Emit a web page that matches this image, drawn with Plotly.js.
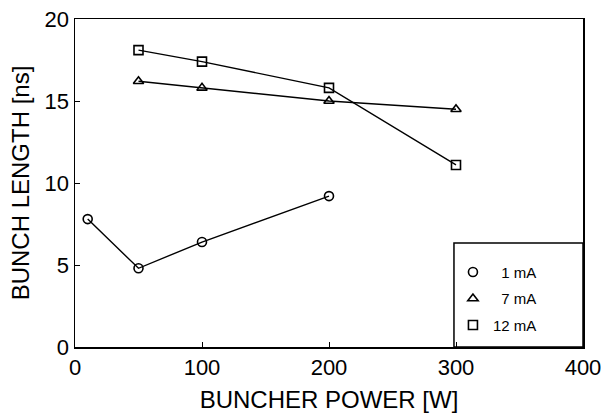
<!DOCTYPE html>
<html>
<head>
<meta charset="utf-8">
<script src="https://cdn.plot.ly/plotly-3.0.1.min.js"></script>
<style>
html,body{margin:0;padding:0;background:#fff;}
#chart{width:602px;height:417px;}
</style>
</head>
<body>
<div id="chart"></div>
<script>
// Data
var power1mA = [10, 50, 100, 200];
var length1mA = [7.8, 4.8, 6.4, 9.2];
var power7mA = [50, 100, 200, 300];
var length7mA = [16.2, 15.8, 15.0, 14.5];
var power12mA = [50, 100, 200, 300];
var length12mA = [18.1, 17.4, 15.8, 11.1];
var seriesNames = ["\u20071 mA", "\u20077 mA", "12 mA"];
var xTicks = [0, 100, 200, 300, 400];
var yTicks = [0, 5, 10, 15, 20];

var FONT = "Liberation Sans, Arial, sans-serif";

function lineTrace(x, y, group) {
  return {
    x: x, y: y, type: "scatter", mode: "lines", showlegend: false,
    legendgroup: group, hoverinfo: "skip",
    line: {color: "#000", width: 1.4}
  };
}
function markerTrace(x, y, name, symbol, group) {
  return {
    x: x, y: y, name: name, type: "scatter", mode: "markers",
    legendgroup: group,
    marker: {symbol: symbol, size: 9, color: "#000", line: {color: "#000", width: 1.6}}
  };
}

var traces = [
  lineTrace(power1mA, length1mA, "a"),
  lineTrace(power7mA, length7mA, "b"),
  lineTrace(power12mA, length12mA, "c"),
  markerTrace(power1mA, length1mA, seriesNames[0], "circle-open", "a"),
  markerTrace(power7mA, length7mA, seriesNames[1], "triangle-up-open", "b"),
  markerTrace(power12mA, length12mA, seriesNames[2], "square-open", "c")
];

var axisCommon = {
  showgrid: false, zeroline: false,
  showline: true, linecolor: "#000", linewidth: 1.5, mirror: true,
  ticks: "inside", ticklen: 5, tickwidth: 1, tickcolor: "#000",
  tickfont: {family: FONT, size: 22, color: "#000"}
};

var layout = {
  width: 602, height: 417,
  margin: {l: 75, r: 19, t: 19, b: 70},
  paper_bgcolor: "#fff", plot_bgcolor: "#fff",
  font: {family: FONT, color: "#000"},
  xaxis: Object.assign({}, axisCommon, {
    range: [0, 400], tickvals: xTicks, ticktext: xTicks.map(String),
    title: {text: "BUNCHER POWER [W]", font: {family: FONT, size: 24, color: "#000"}, standoff: 12}
  }),
  yaxis: Object.assign({}, axisCommon, {
    range: [0, 20], tickvals: yTicks, ticktext: yTicks.map(String),
    title: {text: "BUNCH LENGTH [ns]", font: {family: FONT, size: 24, color: "#000"}, standoff: 8}
  }),
  showlegend: true,
  legend: {
    x: 0.744, xanchor: "left", y: 0.278, yanchor: "top",
    bgcolor: "rgba(0,0,0,0)", borderwidth: 0,
    font: {family: FONT, size: 15, color: "#000"},
    tracegroupgap: 4, traceorder: "grouped"
  },
  shapes: [{
    type: "rect", xref: "paper", yref: "paper",
    x0: 0.746, x1: 1, y0: 0, y1: 0.317,
    line: {color: "#000", width: 1.5}, fillcolor: "rgba(0,0,0,0)"
  }]
};

Plotly.newPlot("chart", traces, layout, {displayModeBar: false, staticPlot: true});
</script>
</body>
</html>
